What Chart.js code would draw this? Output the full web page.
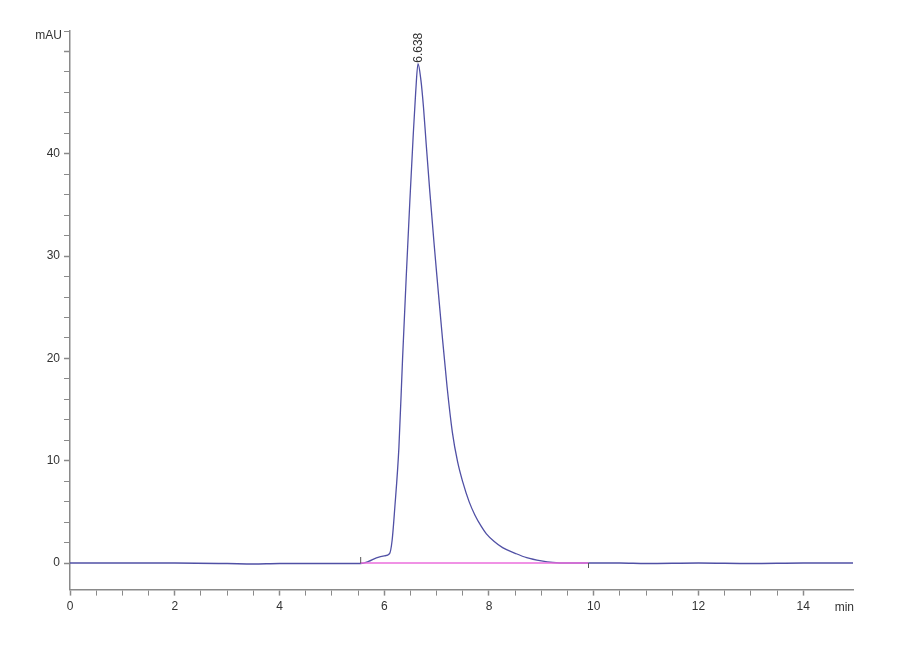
<!DOCTYPE html>
<html>
<head>
<meta charset="utf-8">
<script src="https://cdn.jsdelivr.net/npm/chart.js@4.4.0/dist/chart.umd.min.js"></script>
<style>
  html, body { margin: 0; padding: 0; background: #fff; }
  #wrap { width: 900px; height: 660px; }
</style>
</head>
<body>
<div id="wrap"><canvas id="chrom"></canvas></div>
<script>

// retention time (min) and detector signal (mAU)
const times = [0, 1, 2, 3, 3.5, 4, 5, 5.5, 5.55, 5.7, 5.85, 6.0, 6.1, 6.15, 6.2, 6.28, 6.35, 6.42,
  6.49, 6.55, 6.6, 6.645, 6.7, 6.75, 6.8, 6.87, 6.95, 7.02, 7.1, 7.2, 7.3, 7.4, 7.5, 7.62, 7.73,
  7.85, 7.95, 8.1, 8.26, 8.5, 8.72, 9.0, 9.22, 9.5, 9.9, 10.5, 11, 12, 13, 14, 14.95];
const signal = [0, 0, 0, -0.05, -0.1, -0.05, -0.05, -0.05, -0.05, 0.15, 0.5, 0.7, 0.9, 2.2, 5.3, 11.3, 20, 28,
  35.5, 41.5, 46, 48.8, 47.2, 44.5, 41, 36.3, 31.3, 27.2, 22.6, 17.2, 12.8, 9.9, 7.9, 6.0, 4.7,
  3.6, 2.85, 2.1, 1.5, 0.95, 0.52, 0.2, 0.05, 0, 0, 0, -0.05, 0, -0.05, 0, 0];

// integration baseline of the peak
const baseTimes = [5.55, 9.9];
const baseValues = [0, 0];

const peakTime = 6.638;
const peakHeight = 48.8;
const peakLabel = '6.638';

const xTickLabels = ['0', '2', '4', '6', '8', '10', '12', '14'];
const yTickLabels = ['0', '10', '20', '30', '40'];

const traceColor = 'rgb(80, 80, 165)';
const baseColor = 'rgb(235, 110, 220)';
const axisColor = '#8a8a8a';

const toXY = (xs, ys) => xs.map((x, i) => ({ x: x, y: ys[i] }));

// axis names, peak label, and the integration marks
const annotate = {
  id: 'annotate',
  afterDatasetsDraw(chart) {
    const ctx = chart.ctx;
    const xs = chart.scales.x;
    const ys = chart.scales.y;
    ctx.save();
    ctx.fillStyle = '#333';
    ctx.font = '12px "Liberation Sans", Arial, sans-serif';

    ctx.textAlign = 'right';
    ctx.textBaseline = 'middle';
    ctx.fillText('mAU', xs.left - 8, ys.top + 5);

    ctx.textAlign = 'right';
    ctx.textBaseline = 'top';
    ctx.fillText('min', xs.right + 1, ys.bottom + 12);

    // peak apex label, rotated
    const px = xs.getPixelForValue(peakTime);
    const py = ys.getPixelForValue(peakHeight);
    ctx.translate(px + 1, py - 1);
    ctx.rotate(-Math.PI / 2);
    ctx.textAlign = 'left';
    ctx.textBaseline = 'middle';
    ctx.font = '12px "Liberation Sans", Arial, sans-serif';
    ctx.fillText(peakLabel, 0, 0);
    ctx.setTransform(1, 0, 0, 1, 0, 0);
    ctx.scale(chart.currentDevicePixelRatio, chart.currentDevicePixelRatio);

    // start / end marks of integration
    ctx.strokeStyle = '#555';
    ctx.lineWidth = 1;
    const y0 = ys.getPixelForValue(0);
    const sx = xs.getPixelForValue(baseTimes[0]);
    const ex = xs.getPixelForValue(baseTimes[1]);
    ctx.beginPath();
    ctx.moveTo(sx, y0 - 6);
    ctx.lineTo(sx, y0);
    ctx.moveTo(ex, y0);
    ctx.lineTo(ex, y0 + 5);
    ctx.stroke();
    ctx.restore();
  }
};

new Chart(document.getElementById('chrom'), {
  type: 'line',
  data: {
    datasets: [{
      data: toXY(baseTimes, baseValues),
      borderColor: baseColor,
      borderWidth: 1.5,
      pointRadius: 0
    }, {
      data: toXY(times, signal),
      borderColor: traceColor,
      borderWidth: 1.3,
      pointRadius: 0,
      cubicInterpolationMode: 'monotone'
    }]
  },
  options: {
    responsive: true,
    maintainAspectRatio: false,
    animation: false,
    layout: { padding: { left: 0, right: 47, top: 31, bottom: 42 } },
    plugins: {
      legend: { display: false },
      tooltip: { enabled: false }
    },
    scales: {
      x: {
        type: 'linear',
        min: 0,
        max: 14.95,
        border: { color: axisColor, width: 1.5 },
        afterBuildTicks: (scale) => {
          scale.ticks = scale.ticks.filter((t) => Math.abs(t.value * 2 - Math.round(t.value * 2)) < 1e-6);
        },
        grid: {
          drawOnChartArea: false,
          tickLength: 6,
          tickColor: axisColor,
          tickWidth: (c) => (c.tick && c.tick.value % 2 === 0 ? 1.5 : 1)
        },
        ticks: {
          stepSize: 0.5,
          maxRotation: 0,
          autoSkip: false,
          color: '#333',
          font: { family: '"Liberation Sans", Arial, sans-serif', size: 12 },
          padding: 4,
          callback: (v) => (xTickLabels.includes(String(v)) ? String(v) : '')
        }
      },
      y: {
        type: 'linear',
        min: -2.6,
        max: 52,
        border: { color: axisColor, width: 1.5 },
        afterBuildTicks: (scale) => {
          scale.ticks = scale.ticks.filter((t) => Math.abs(t.value / 2 - Math.round(t.value / 2)) < 1e-6);
        },
        grid: {
          drawOnChartArea: false,
          tickLength: 6,
          tickColor: axisColor,
          tickWidth: (c) => (c.tick && c.tick.value % 10 === 0 ? 1.5 : 1)
        },
        ticks: {
          stepSize: 2,
          autoSkip: false,
          color: '#333',
          font: { family: '"Liberation Sans", Arial, sans-serif', size: 12 },
          padding: 4,
          callback: (v) => (yTickLabels.includes(String(v)) ? String(v) : '')
        },
        afterFit: (scale) => { scale.width = 70; }
      }
    }
  },
  plugins: [annotate]
});
</script>
</body>
</html>
